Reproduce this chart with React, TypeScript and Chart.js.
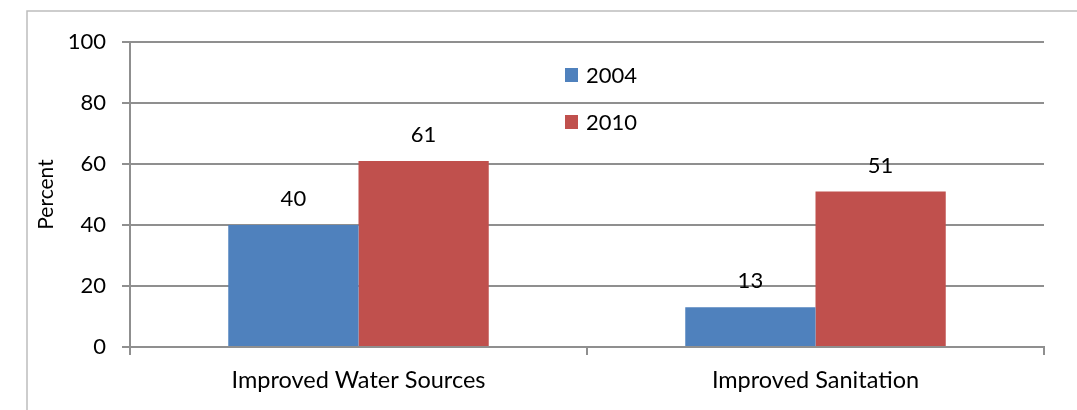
import React, { useEffect, useRef } from "react";
import { Chart, registerables } from "chart.js";

Chart.register(...registerables);

const categories = ["Improved Water Sources", "Improved Sanitation"];
const seriesNames = ["2004", "2010"];
const values2004 = [40, 13];
const values2010 = [61, 51];
const yTicks = [0, 20, 40, 60, 80, 100];
const colors = ["#4F81BD", "#C0504D"];

const FONT = "Lato, 'Open Sans', sans-serif";

const decorPlugin = {
  id: "decor",
  beforeDraw(chart: any) {
    const ctx = chart.ctx;
    ctx.save();
    ctx.fillStyle = "#ffffff";
    ctx.fillRect(0, 0, chart.width, chart.height);
    ctx.strokeStyle = "#bdbdbd";
    ctx.lineWidth = 1.5;
    ctx.beginPath();
    ctx.moveTo(27, chart.height + 2);
    ctx.lineTo(27, 11);
    ctx.lineTo(chart.width + 2, 11);
    ctx.stroke();
    ctx.restore();
  },
  afterDatasetsDraw(chart: any) {
    const ctx = chart.ctx;
    ctx.save();
    ctx.fillStyle = "#000";
    ctx.font = `22px ${FONT}`;
    ctx.textAlign = "center";
    ctx.textBaseline = "middle";
    chart.data.datasets.forEach((ds: any, di: number) => {
      const meta = chart.getDatasetMeta(di);
      meta.data.forEach((bar: any, i: number) => {
        ctx.fillText(String(ds.data[i]), bar.x, bar.y - 26);
      });
    });
    // legend
    const lx = 565;
    const ly = [75, 122];
    seriesNames.forEach((name, i) => {
      ctx.fillStyle = colors[i];
      ctx.fillRect(lx, ly[i] - 7, 13, 14);
      ctx.fillStyle = "#000";
      ctx.textAlign = "left";
      ctx.fillText(name, lx + 21, ly[i] + 1);
    });
    ctx.restore();
  },
};

export default function App() {
  const ref = useRef<HTMLCanvasElement>(null);
  useEffect(() => {
    const chart = new Chart(ref.current!, {
      type: "bar",
      data: {
        labels: categories,
        datasets: [
          { label: seriesNames[0], data: values2004, backgroundColor: colors[0] },
          { label: seriesNames[1], data: values2010, backgroundColor: colors[1] },
        ],
      },
      options: {
        animation: false,
        responsive: false,
        layout: { padding: { left: 0, top: 42, right: 33, bottom: 0 } },
        plugins: {
          legend: { display: false },
          tooltip: { enabled: false },
        },
        datasets: { bar: { categoryPercentage: 0.57, barPercentage: 1 } },
        scales: {
          x: {
            afterFit: (s: any) => {
              s.height = 63;
            },
            grid: {
              offset: true,
              drawOnChartArea: false,
              drawTicks: true,
              tickLength: 8,
              color: "#8f8f8f",
              lineWidth: 2,
            },
            border: { color: "#8f8f8f", width: 2 },
            ticks: {
              color: "#000",
              font: { family: FONT, size: 23.5 },
              padding: 11,
            },
          },
          y: {
            min: 0,
            max: 100,
            afterFit: (s: any) => {
              s.width = 130;
            },
            afterBuildTicks: (s: any) => {
              s.ticks = yTicks.map((v) => ({ value: v }));
            },
            grid: {
              color: "#8f8f8f",
              lineWidth: 2,
              tickLength: 8,
            },
            border: { color: "#8f8f8f", width: 2 },
            ticks: {
              color: "#000",
              font: { family: FONT, size: 22 },
              padding: 16,
            },
            title: {
              display: true,
              text: "Percent",
              color: "#000",
              font: { family: FONT, size: 21 },
              padding: { top: 34, bottom: 0 },
            },
          },
        },
      },
      plugins: [decorPlugin],
    });
    return () => chart.destroy();
  }, []);
  return (
    <div style={{ position: "fixed", left: 0, top: 0, width: 1077, height: 410 }}>
      <canvas ref={ref} width={1077} height={410} style={{ display: "block" }} />
    </div>
  );
}
